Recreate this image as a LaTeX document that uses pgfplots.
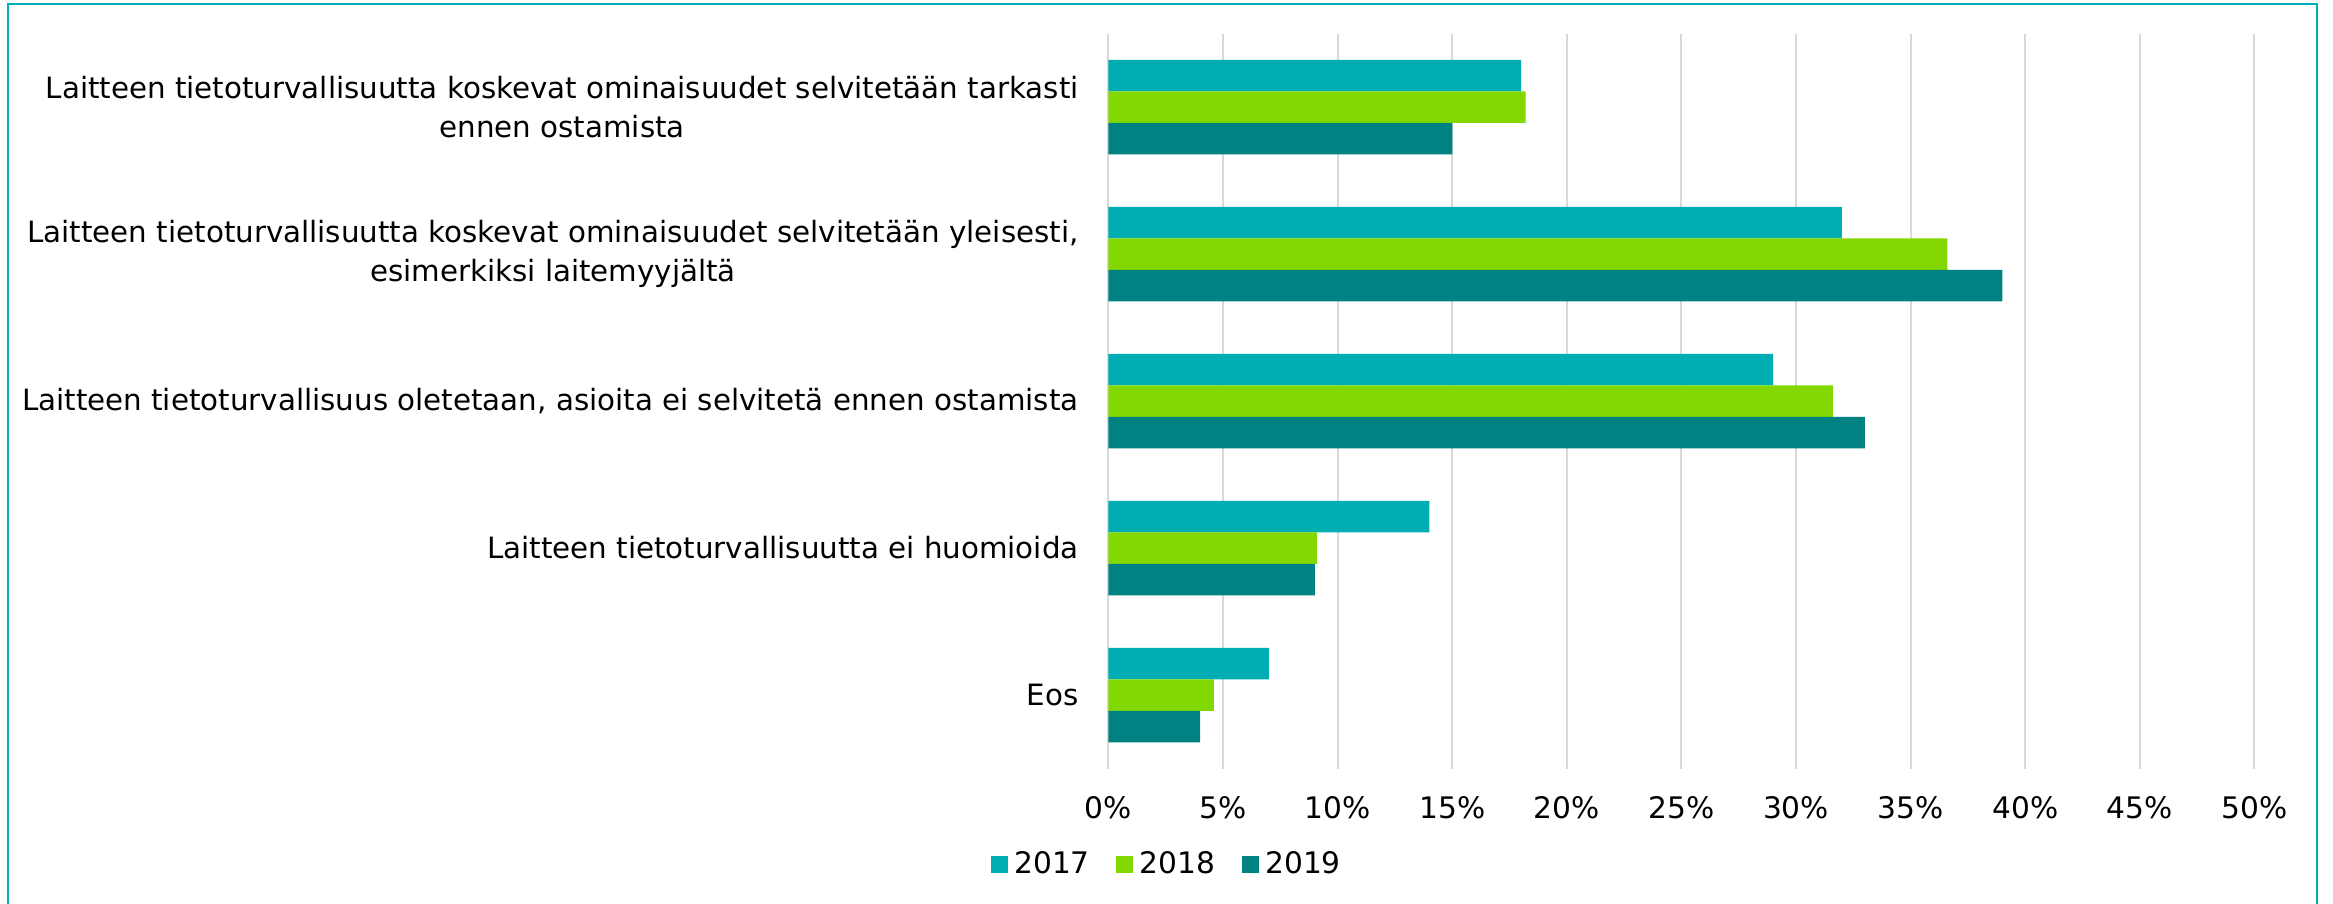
\documentclass[border=0pt]{standalone}
\usepackage{pgfplots}
\pgfplotsset{compat=1.18}
\usepackage{fontspec}
\setmainfont{DejaVu Sans}
\definecolor{c17}{RGB}{0,173,178}
\definecolor{c18}{RGB}{130,216,0}
\definecolor{c19}{RGB}{0,130,130}
\definecolor{framec}{RGB}{0,176,185}
\definecolor{gridc}{RGB}{217,217,217}
\begin{document}
\fontsize{8.9pt}{10.8pt}\selectfont
\begin{tikzpicture}[x=0.3pt,y=0.3pt]
\useasboundingbox (0,0) rectangle (2333,903);
\draw[framec, line width=0.8pt] (8,-10) rectangle (2317,899);
\begin{axis}[
  at={(332.55pt,40.35pt)}, anchor=south west,
  scale only axis, width=343.8pt, height=220.5pt,
  xbar, bar width=9.45pt,
  xmin=0, xmax=50, ymin=-0.5, ymax=4.5,
  axis lines*=left, axis line style={draw=none},
  major tick length=0pt, tick style={draw=none},
  xmajorgrids, grid style={gridc, line width=0.6pt},
  xtick={0,5,10,15,20,25,30,35,40,45,50},
  xticklabels={0\%,5\%,10\%,15\%,20\%,25\%,30\%,35\%,40\%,45\%,50\%},
  ytick={0,1,2,3,4},
  yticklabels={Eos,
    Laitteen tietoturvallisuutta ei huomioida,
    {Laitteen tietoturvallisuus oletetaan, asioita ei selvitetä ennen ostamista},
    {Laitteen tietoturvallisuutta koskevat ominaisuudet selvitetään yleisesti,\\esimerkiksi laitemyyjältä},
    {Laitteen tietoturvallisuutta koskevat ominaisuudet selvitetään tarkasti\\ennen ostamista}},
  yticklabel style={align=center, anchor=east, xshift=-5.8pt, font=\fontsize{8.8pt}{11.6pt}\selectfont},
  xticklabel style={font=\fontsize{8.9pt}{10.8pt}\selectfont, yshift=-5.2pt},
  legend columns=3,
  legend style={draw=none, at={(0.053,-0.131)}, anchor=center,
    font=\fontsize{8.9pt}{10.8pt}\selectfont,
    /tikz/every even column/.append style={column sep=6pt}},
  legend image code/.code={\fill[#1,draw=none] (0pt,-2.5pt) rectangle (5pt,2.5pt);},
]
\addplot[fill=c17, draw=none, bar shift=9.45pt] coordinates {(7,0) (14,1) (29,2) (32,3) (18,4)};
\addlegendentry{2017}
\addplot[fill=c18, draw=none, bar shift=0pt] coordinates {(4.6,0) (9.1,1) (31.6,2) (36.6,3) (18.2,4)};
\addlegendentry{2018}
\addplot[fill=c19, draw=none, bar shift=-9.45pt] coordinates {(4,0) (9,1) (33,2) (39,3) (15,4)};
\addlegendentry{2019}
\end{axis}
\end{tikzpicture}
\end{document}
